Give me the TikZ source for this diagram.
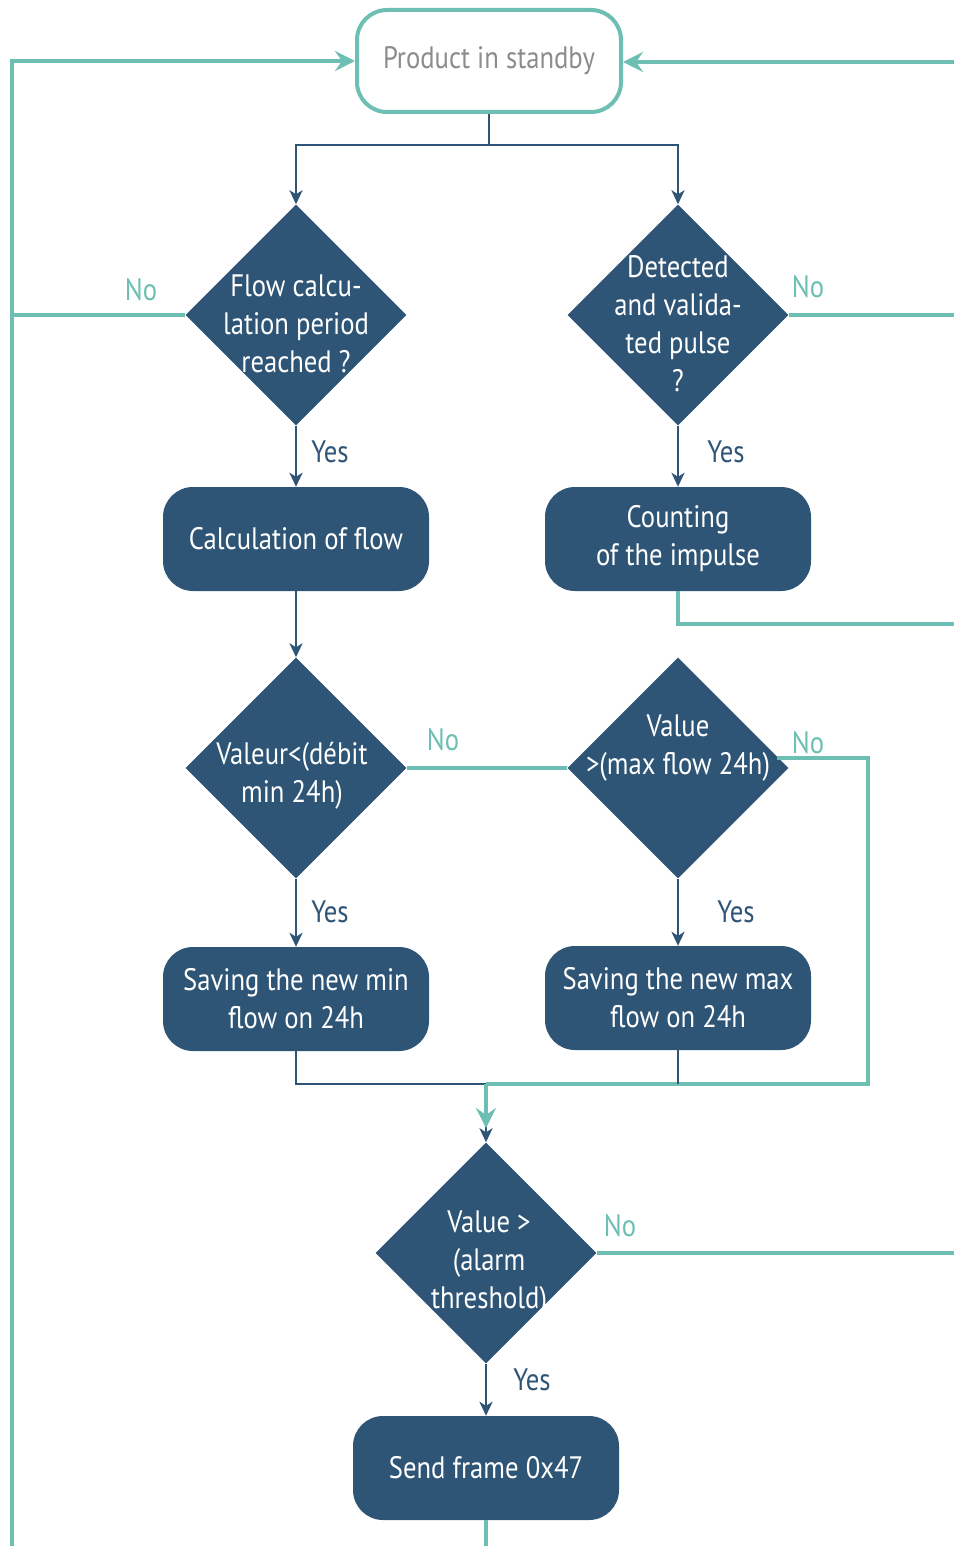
\documentclass[tikz,border=0pt]{standalone}
\usepackage{fontspec}
\setmainfont{PT Sans}[FakeStretch=0.86]
\usetikzlibrary{shapes.geometric,arrows.meta,calc}
\definecolor{dblue}{HTML}{2E5576}
\definecolor{tealc}{HTML}{6CBFB2}
\newcommand{\fs}{\fontsize{31}{38}\selectfont}
\tikzset{
  boxn/.style={fill=dblue, rounded corners=30, minimum width=266, minimum height=104, text=white, font=\fs, align=center, inner sep=0},
  dia/.style={diamond, fill=dblue, minimum width=221, minimum height=221, inner sep=0},
  dtext/.style={text=white, font=\fs, align=center, inner sep=0},
  dk/.style={draw=dblue, line width=2.5},
  dka/.style={dk, -{Stealth[length=14, width=13, inset=4]}},
  tl/.style={draw=tealc, line width=4},
  tla/.style={tl, -{Stealth[length=20, width=20, inset=7]}},
  yesl/.style={text=dblue, font=\fs, inner sep=0},
  nol/.style={text=tealc, font=\fs, inner sep=0},
}
\begin{document}
\begin{tikzpicture}[x=1pt,y=-1pt]
\useasboundingbox (0,0) rectangle (954,1546);
% nodes
\node[draw=tealc, line width=4, fill=white, rounded corners=30, minimum width=264, minimum height=102, text=gray!90, font=\fs, inner sep=0] (sb) at (489,61) {Product in standby};
\node[dia] (d1) at (296,315) {};
\node[dtext] (t1) at ($(d1)+(0,9)$) {Flow calcu-\\lation period\\reached ?};
\node[dia] (d2) at (678,315) {};
\node[dtext] (t2) at ($(d2)+(0,9)$) {Detected\\and valida-\\ted pulse\\?};
\node[boxn] (c1) at (296,539) {Calculation of flow};
\node[boxn] (c2) at (678,539) {Counting\\of the impulse};
\node[dia] (d3) at (296,768) {};
\node[dtext] (t3) at ($(d3)+(-4,8)$) {Valeur<(débit\\min 24h)};
\node[dia] (d4) at (678,768) {};
\node[dtext] (t4) at ($(d4)+(0,-20)$) {Value\\>(max flow 24h)};
\node[boxn] (s1) at (296,999) {Saving the new min\\flow on 24h};
\node[boxn] (s2) at (678,998) {Saving the new max\\flow on 24h};
\node[dia] (d5) at (486,1253) {};
\node[dtext] (t5) at ($(d5)+(3,10)$) {Value >\\(alarm\\threshold)};
\node[boxn] (sf) at (486,1468) {Send frame 0x47};
% labels
\node[nol] (n1) at (141,290) {No};
\node[nol] (n2) at (808,287) {No};
\node[nol] (n3) at (443,740) {No};
\node[nol] (n4) at (808,743) {No};
\node[nol] (n5) at (620,1226) {No};
\node[yesl] (y1) at (330,452) {Yes};
\node[yesl] (y2) at (726,452) {Yes};
\node[yesl] (y3) at (330,912) {Yes};
\node[yesl] (y4) at (736,912) {Yes};
\node[yesl] (y5) at (532,1380) {Yes};
% coordinates
\coordinate (Ltop) at (12,61);
\coordinate (Lbot) at (12,1546);
\coordinate (Rtop) at (954,62);
\coordinate (j0) at (489,145);
\coordinate (jx) at (486,1084);
\coordinate (rx) at (868,758);
% top split
\draw[dk] (sb.south) -- (j0);
\draw[dka] (j0) -| (d1.north);
\draw[dka] (j0) -| (d2.north);
% teal loops
\draw[tla] (Lbot) -- (Ltop) -- (sb.west);
\draw[tla] (Rtop) -- (sb.east |- Rtop);
\draw[tl] (d1.west) -- (d1.west -| Ltop);
\draw[tl] (d2.east) -- (d2.east -| Rtop);
\draw[tl] (c2.south) -- ++(0,33) coordinate (cb) -- (cb -| Rtop);
\draw[tl] (d3.east) -- (d4.west);
\draw[tl] ($(d4.east)+(-12,-10)$) -- (rx) -- (rx |- jx) -- (jx);
\draw[tl] (d5.east) -- (d5.east -| Rtop);
\draw[tl] (sf.south) -- (sf.south |- Lbot);
% dark flow
\draw[dka] (d1.south) -- (c1.north);
\draw[dka] (d2.south) -- (c2.north);
\draw[dka] (c1.south) -- (d3.north);
\draw[dka] (d3.south) -- (s1.north);
\draw[dka] (d4.south) -- (s2.north);
\draw[dk] (s1.south) -- (s1.south |- jx) -- (jx);
\draw[dk] (s2.south) -- (s2.south |- jx);
\draw[dka] (jx) -- (d5.north);
\draw[tla] (jx) -- ++(0,44);
\draw[dka] (d5.south) -- (sf.north);
\end{tikzpicture}
\end{document}
